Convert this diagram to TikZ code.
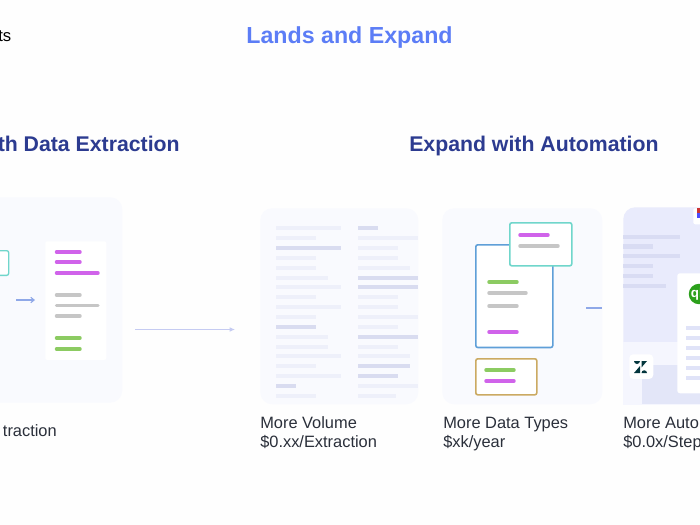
\documentclass[tikz,border=0pt]{standalone}
\usepackage{fontspec}
\setmainfont{Liberation Sans}
\usepackage{xcolor}
\usetikzlibrary{arrows.meta,positioning}
\definecolor{pagebg}{HTML}{FEFEFE}
\definecolor{panelbg}{HTML}{F9FAFE}
\definecolor{lavbg}{HTML}{E9EBFC}
\definecolor{lavlow}{HTML}{E3E6F8}
\definecolor{lavpale}{HTML}{F5F6FE}
\definecolor{rowpale}{HTML}{EEF0FA}
\definecolor{rowdark}{HTML}{D9DCF0}
\definecolor{rowside}{HTML}{D9DCF3}
\definecolor{rowcard}{HTML}{E0E3F8}
\definecolor{purplebar}{HTML}{D063EA}
\definecolor{greybar}{HTML}{C6C6C6}
\definecolor{greenbar}{HTML}{8CCB62}
\definecolor{tealline}{HTML}{70D6CB}
\definecolor{blueline}{HTML}{5F9FD8}
\definecolor{goldline}{HTML}{CBAA62}
\definecolor{arrowblue}{HTML}{8FA8E8}
\definecolor{arrowpale}{HTML}{C5CBF2}
\definecolor{titleblue}{HTML}{5C7DF6}
\definecolor{headblue}{HTML}{2C3B90}
\definecolor{labelink}{HTML}{2A2F3A}
\definecolor{qbgreen}{HTML}{2CA01C}
\definecolor{zdink}{HTML}{03363D}

\begin{document}
\begin{tikzpicture}[x=0.75pt, y=-0.75pt,
  title/.style={inner sep=0, font=\fontsize{17.4}{20}\selectfont\bfseries},
  head/.style={inner sep=0, text=headblue, font=\fontsize{15.95}{20}\selectfont\bfseries},
  caption/.style={inner sep=0, text=labelink, anchor=base west, font=\fontsize{12.3}{14}\selectfont},
  panel/.style={fill=panelbg, rounded corners=9pt, anchor=north west, minimum width=120pt, minimum height=147pt},
  card/.style={fill=white, rounded corners=1.5pt, anchor=north west},
  row/.style={line width=3pt, rowpale},
  rowhi/.style={line width=3pt, rowdark},
  side/.style={line width=3.2pt, rowside},
  rowc/.style={line width=3pt, rowcard},
  pbar/.style={line width=2.6pt, line cap=round, purplebar},
  gbar/.style={line width=2.6pt, line cap=round, greybar},
  lbar/.style={line width=2.6pt, line cap=round, greenbar}]
  \useasboundingbox (0,0) rectangle (700,525);
  \fill[pagebg] (0,0) rectangle (700,525);
  \clip (0,0) rectangle (700,525);

  % headings
  \node[inner sep=0, anchor=base east, font=\fontsize{12.5}{14}\selectfont] (corner) at (11.5,41) {ts};
  \node[title, text=titleblue, anchor=base] (main) at (349.5,43) {Lands and Expand};
  \node[head, anchor=base east] (land) at (180,151) {th Data Extraction};
  \node[head, anchor=base west] (expand) at (409,151) {Expand with Automation};

  % first panel, cut by the page edge
  \node[panel, minimum width=144pt, minimum height=154pt] (extract) at (-70,197) {};
  \node[card, draw=tealline, line width=1pt, minimum width=30pt, minimum height=18.5pt] (source) at (-32,250) {};
  \node[card, minimum width=45.75pt, minimum height=89pt] (result) at (45,241) {};
  \foreach \xb/\yb in {80/252, 80/262, 98/273} \draw[pbar] (56.5,\yb) -- (\xb,\yb);
  \foreach \xb/\yb in {80/295, 98/305.5, 80/316} \draw[gbar] (56.5,\yb) -- (\xb,\yb);
  \foreach \yb in {338, 349} \draw[lbar] (56.5,\yb) -- (80,\yb);
  \coordinate (inL) at (16,300);
  \coordinate (inR) at (35,300);
  \draw[-{Straight Barb[length=2.5pt,width=4pt]}, arrowblue, line width=0.8pt] (inL) -- (inR);
  \node[caption, anchor=base east] (extractlbl) at (57,436) {traction};

  % long arrow over to the volume panel
  \coordinate (longL) at (135,329.5);
  \coordinate (longR) at (235,329.5);
  \draw[-{Latex[length=4pt,width=3.5pt]}, arrowpale, line width=0.7pt] (longL) -- (longR);

  % volume panel: two columns of rows
  \node[panel, minimum width=118.5pt] (volume) at (260,208) {};
  \foreach \n/\xb in {0/341, 1/316, 3/316, 4/316, 5/328, 6/341, 7/316, 8/341, 9/316, 11/328, 12/328, 13/341, 14/316, 15/341, 17/316}
    \draw[row] (276,228.3+9.85*\n) -- (\xb,228.3+9.85*\n);
  \foreach \n/\xb in {2/341, 10/316, 16/296}
    \draw[rowhi] (276,228.3+9.85*\n) -- (\xb,228.3+9.85*\n);
  \foreach \n/\xb in {1/418, 2/398, 3/398, 4/410, 7/398, 8/398, 9/418, 10/398, 12/398, 13/410, 16/418, 17/396}
    \draw[row] (358,228.3+9.85*\n) -- (\xb,228.3+9.85*\n);
  \foreach \n/\xb in {0/378, 5/418, 6/418, 11/418, 14/410, 15/398}
    \draw[rowhi] (358,228.3+9.85*\n) -- (\xb,228.3+9.85*\n);
  \node[caption] (volumelbl) at (260,428) {More Volume};
  \node[caption] (volumecost) at (260,447) {\$0.xx/Extraction};

  % data types panel: three overlapping documents
  \node[panel] (types) at (442,208) {};
  \node[card, draw=blueline, line width=1.2pt, minimum width=57.75pt, minimum height=77pt] (docmain) at (475,244) {};
  \node[card, draw=tealline, line width=1.2pt, minimum width=46.5pt, minimum height=32.25pt] (doctop) at (509,222) {};
  \node[card, draw=goldline, line width=1.2pt, minimum width=45.75pt, minimum height=27pt] (docbot) at (475,358) {};
  \draw[pbar] (520,235) -- (548,235);
  \draw[gbar] (520,246) -- (558,246);
  \draw[lbar] (489,282) -- (517,282);
  \draw[gbar] (489,293) -- (526,293);
  \draw[gbar] (489,306) -- (517,306);
  \draw[pbar] (489,332) -- (517,332);
  \draw[lbar] (486,370) -- (514,370);
  \draw[pbar] (486,381) -- (514,381);
  \coordinate (outL) at (586,308);
  \coordinate (outR) at (602,308);
  \draw[arrowblue, line width=1.1pt] (outL) -- (outR);
  \node[caption] (typeslbl) at (443,428) {More Data Types};
  \node[caption] (typescost) at (443,447) {\$xk/year};

  % automation panel, cut by the page edge
  \node[panel, fill=lavbg, minimum height=147pt] (auto) at (623,207) {};
  \fill[lavpale] (623,342) rectangle (700,404.5);
  \fill[lavlow] (642,365) rectangle (700,404);
  \foreach \xb/\yb in {680/237, 653/246.5, 680/256, 653/266, 653/276, 666/286}
    \draw[side] (623,\yb) -- (\xb,\yb);
  \node[card, minimum width=20pt, minimum height=12pt] (gmail) at (693,208) {};
  \fill[red!75!black!80] (697,208) rectangle (700,213);
  \fill[blue!70!white] (697,213) rectangle (700,218);
  \node[card, rounded corners=2pt, minimum width=40pt, minimum height=90pt] (sheet) at (677,273) {};
  \node[circle, fill=qbgreen, minimum size=15pt, inner sep=0, text=white, font=\fontsize{10}{10}\selectfont\bfseries] (qb) at (699,294) {qb};
  \foreach \yb in {328, 338, 348, 358, 368, 378} \draw[rowc] (686,\yb) -- (700,\yb);
  \node[card, rounded corners=3pt, minimum width=18pt, minimum height=18.5pt] (zd) at (629,354) {};
  % zendesk mark
  \fill[zdink] (634,361) -- (640,361) arc[start angle=0, end angle=180, radius=3] -- cycle;
  \fill[zdink] (641.5,361) -- (647,361) -- (641.5,367.5) -- cycle;
  \fill[zdink] (640,366) -- (640,373) -- (634,373) -- cycle;
  \fill[zdink] (641.5,373) -- (647,373) arc[start angle=0, end angle=-180, radius=2.75] -- cycle;
  \node[caption] (autolbl) at (623,428) {More Auto};
  \node[caption] (autocost) at (623,447) {\$0.0x/Step};
\end{tikzpicture}
\end{document}
